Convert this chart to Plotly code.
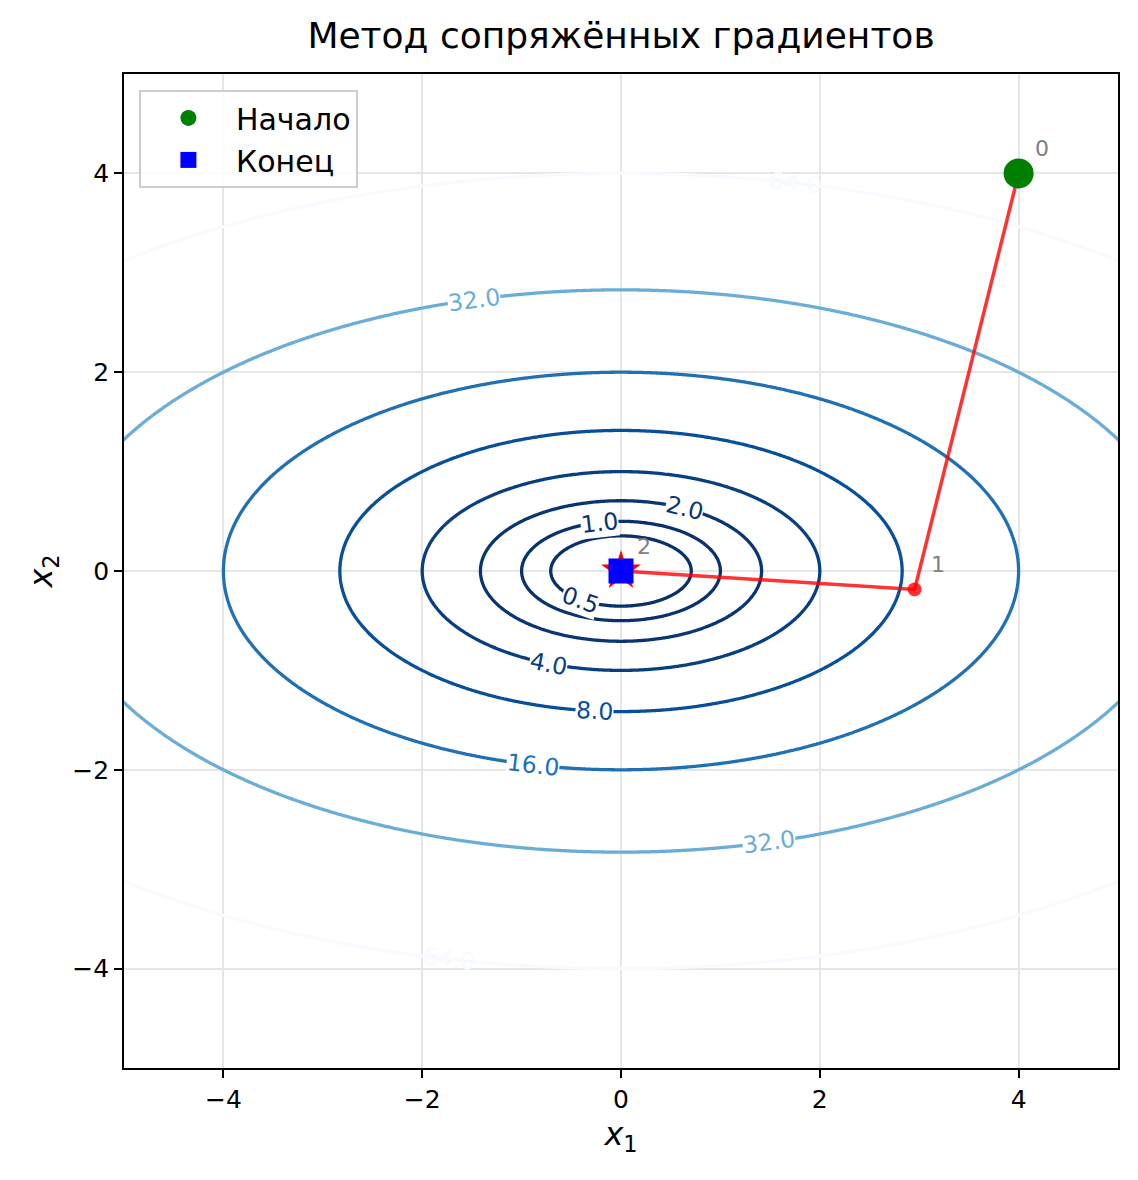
import numpy as np
import plotly.graph_objects as go

# ---- data ----
levels = [0.5, 1.0, 2.0, 4.0, 8.0, 16.0, 32.0, 64.0]
level_colors = ["#08306b", "#08326e", "#083674", "#083f81", "#084f99",
                "#2070b4", "#6aadd6", "#f7fbff"]
path_x1 = [4.0, 2.954, 0.0]
path_x2 = [4.0, -0.185, 0.0]
point_labels = ["0", "1", "2"]
x_ticks = [-4, -2, 0, 2, 4]
y_ticks = [-4, -2, 0, 2, 4]
# contour label placement: (level, x1 position, side of ellipse)
label_spots = [(64.0, 1.75, 1), (32.0, -1.48, 1), (2.0, 0.634, 1), (1.0, -0.22, 1),
               (0.5, -0.41, -1), (4.0, -0.73, -1), (8.0, -0.27, -1),
               (16.0, -0.885, -1), (32.0, 1.49, -1), (64.0, -1.73, -1)]

FONT = "DejaVu Sans"

def f(a, b):
    return a ** 2 + 4 * b ** 2

gx = np.linspace(-5.5, 5.5, 551)
gy = np.linspace(-5.5, 5.5, 551)
GX, GY = np.meshgrid(gx, gy)
Z = f(GX, GY)

fig = go.Figure()

for lev, col in zip(levels, level_colors):
    fig.add_trace(go.Contour(
        x=gx, y=gy, z=Z,
        contours=dict(start=lev, end=lev, size=1, coloring="none", showlabels=False),
        line=dict(color=col, width=3.3),
        showscale=False, hoverinfo="skip", showlegend=False,
    ))

# path
fig.add_trace(go.Scatter(
    x=path_x1, y=path_x2, mode="lines+markers",
    line=dict(color="rgba(255,0,0,0.8)", width=3.5),
    marker=dict(color="rgba(255,0,0,0.8)", size=14),
    showlegend=False, hoverinfo="skip",
))
# start
fig.add_trace(go.Scatter(
    x=[path_x1[0]], y=[path_x2[0]], mode="markers",
    marker=dict(color="green", size=30, symbol="circle"),
    name="Начало",
))
# optimum star
fig.add_trace(go.Scatter(
    x=[path_x1[-1]], y=[path_x2[-1]], mode="markers",
    marker=dict(color="red", size=30, symbol="star"),
    showlegend=False, hoverinfo="skip",
))
# end
fig.add_trace(go.Scatter(
    x=[path_x1[-1]], y=[path_x2[-1]], mode="markers",
    marker=dict(color="blue", size=25, symbol="square"),
    name="Конец",
))

annotations = []
color_of = dict(zip(levels, level_colors))
for lev, lx, side in label_spots:
    ly = side * np.sqrt(max(lev - lx ** 2, 0) / 4.0)
    slope = -lx / (4 * ly)
    ang = -np.degrees(np.arctan(slope))
    annotations.append(dict(
        x=lx, y=ly, xref="x", yref="y", text=f"{lev:.1f}", showarrow=False,
        font=dict(family=FONT, size=23.5, color=color_of[lev]),
        textangle=ang,
        bgcolor="rgba(0,0,0,0)" if lev == 64.0 else "white",
        borderpad=0,
    ))

for px, py, t in zip(path_x1, path_x2, point_labels):
    annotations.append(dict(
        x=px, y=py, xref="x", yref="y", text=t, showarrow=False,
        xanchor="left", yanchor="bottom", xshift=14, yshift=10,
        font=dict(family=FONT, size=22, color="#808080"),
    ))

axis_common = dict(
    range=[-5, 5], showgrid=True, gridcolor="#e6e6e6", gridwidth=1.5,
    zeroline=False, showline=True, mirror=True, linecolor="black", linewidth=1.6,
    ticks="outside", ticklen=8, tickwidth=1.6, tickcolor="black",
    tickfont=dict(family=FONT, size=25, color="black"),
)

fig.update_layout(
    width=1138, height=1180,
    margin=dict(l=124, r=20, t=74, b=112),
    paper_bgcolor="white", plot_bgcolor="white",
    font=dict(family=FONT, color="black"),
    title=dict(text="Метод сопряжённых градиентов", x=0.5, xref="paper",
               y=1 - 35 / 1180, yref="container", yanchor="middle", xanchor="center",
               font=dict(family=FONT, size=36, color="black")),
    xaxis=dict(axis_common, tickvals=x_ticks,
               title=dict(text="<i>x</i><sub>1</sub>", font=dict(family=FONT, size=32), standoff=10)),
    yaxis=dict(axis_common, tickvals=y_ticks,
               title=dict(text="<i>x</i><sub>2</sub>", font=dict(family=FONT, size=32), standoff=10)),
    legend=dict(x=0.015, y=0.984, xanchor="left", yanchor="top",
                bgcolor="rgba(255,255,255,0.85)", bordercolor="#cccccc", borderwidth=2,
                font=dict(family=FONT, size=30, color="black"), itemwidth=85,
                tracegroupgap=0),
    annotations=annotations,
    showlegend=True,
)

fig.write_html("out.html")
